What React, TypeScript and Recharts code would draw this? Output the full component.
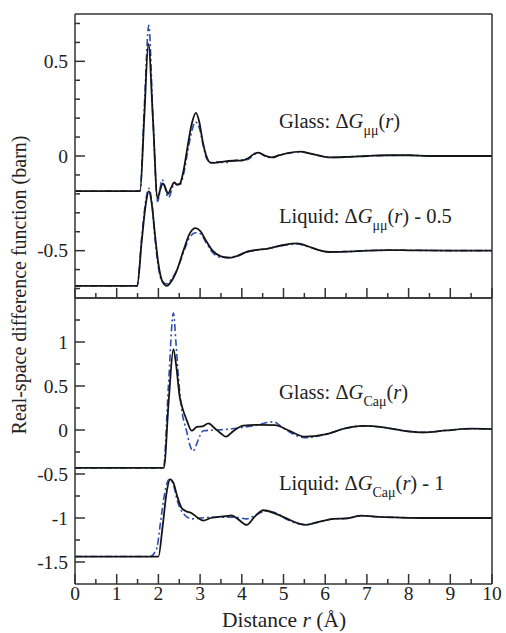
import React from "react";
import { LineChart, Line, XAxis, YAxis } from "recharts";

type Pt = [number, number];

// x ticks (major every 1 Å, minor every 0.5 Å)
const xTicks = [0, 0.5, 1, 1.5, 2, 2.5, 3, 3.5, 4, 4.5, 5, 5.5, 6, 6.5, 7, 7.5, 8, 8.5, 9, 9.5, 10];
const topTicks = [-0.7, -0.6, -0.5, -0.4, -0.3, -0.2, -0.1, 0, 0.1, 0.2, 0.3, 0.4, 0.5, 0.6, 0.7];
const botTicks = [-1.5, -1.25, -1, -0.75, -0.5, -0.25, 0, 0.25, 0.5, 0.75, 1, 1.25];

// top panel: ΔG_μμ(r)
const glassMuMu: Pt[] = [
  [0, -0.185], [1.56, -0.185], [1.66, 0.2], [1.76, 0.593], [1.87, 0.19], [1.98, -0.225],
  [2.04, -0.18], [2.11, -0.145], [2.17, -0.17], [2.23, -0.2], [2.3, -0.17], [2.38, -0.14],
  [2.45, -0.152], [2.52, -0.145], [2.6, -0.08], [2.7, 0.05], [2.8, 0.17], [2.9, 0.228],
  [2.98, 0.18], [3.06, 0.08], [3.15, 0.0], [3.26, -0.036], [3.4, -0.035], [3.6, -0.028],
  [3.8, -0.025], [4.0, -0.024], [4.15, -0.012], [4.3, 0.012], [4.4, 0.018], [4.55, 0.002],
  [4.72, -0.007], [4.9, 0.004], [5.1, 0.015], [5.4, 0.023], [5.7, 0.01], [6.1, -0.007],
  [6.5, -0.005], [7.0, 0.0], [7.5, 0.004], [8.0, 0.004], [8.5, 0.0], [9.0, 0.0], [10, 0.0],
];
const glassMuMuFit: Pt[] = [
  [0, -0.185], [1.56, -0.185], [1.66, 0.25], [1.77, 0.69], [1.87, 0.2], [1.98, -0.24],
  [2.09, -0.125], [2.24, -0.22], [2.38, -0.15], [2.52, -0.15], [2.6, -0.1], [2.7, 0.02],
  [2.8, 0.13], [2.88, 0.18], [2.98, 0.15], [3.06, 0.07], [3.15, -0.01], [3.26, -0.035],
  [3.4, -0.03], [3.6, -0.035], [3.8, -0.025], [4.0, -0.02], [4.15, -0.018], [4.3, 0.008],
  [4.42, 0.015], [4.55, 0.0], [4.72, -0.01], [4.9, 0.004], [5.1, 0.014], [5.4, 0.022],
  [5.7, 0.01], [6.1, -0.008], [6.5, -0.005], [7.0, 0.0], [7.5, 0.003], [8.0, 0.004],
  [8.5, 0.0], [9.0, 0.0], [10, 0.0],
];
const liquidMuMu: Pt[] = [
  [0, -0.686], [1.49, -0.686], [1.6, -0.45], [1.7, -0.25], [1.77, -0.185], [1.84, -0.25],
  [1.92, -0.42], [2.0, -0.57], [2.1, -0.665], [2.2, -0.686], [2.3, -0.665], [2.45, -0.6],
  [2.6, -0.5], [2.75, -0.41], [2.89, -0.381], [3.0, -0.395], [3.15, -0.45], [3.3, -0.5],
  [3.5, -0.53], [3.7, -0.538], [3.9, -0.528], [4.1, -0.508], [4.3, -0.498], [4.6, -0.49],
  [5.0, -0.47], [5.32, -0.462], [5.6, -0.478], [5.9, -0.5], [6.1, -0.507], [6.5, -0.505],
  [7.0, -0.5], [7.5, -0.497], [8.0, -0.498], [9.0, -0.5], [10, -0.5],
];
const liquidMuMuFit: Pt[] = [
  [0, -0.686], [1.49, -0.686], [1.6, -0.43], [1.7, -0.23], [1.77, -0.17], [1.84, -0.24],
  [1.92, -0.44], [2.0, -0.59], [2.1, -0.665], [2.2, -0.675], [2.3, -0.655], [2.45, -0.6],
  [2.6, -0.51], [2.75, -0.43], [2.89, -0.405], [3.0, -0.41], [3.15, -0.46], [3.3, -0.51],
  [3.5, -0.535], [3.7, -0.535], [3.9, -0.525], [4.1, -0.508], [4.3, -0.498], [4.6, -0.49],
  [5.0, -0.472], [5.32, -0.465], [5.6, -0.48], [5.9, -0.5], [6.1, -0.507], [6.5, -0.505],
  [7.0, -0.5], [7.5, -0.498], [8.0, -0.498], [9.0, -0.5], [10, -0.5],
];

// bottom panel: ΔG_Caμ(r)
const glassCaMu: Pt[] = [
  [0, -0.43], [2.13, -0.43], [2.25, 0.35], [2.36, 0.92], [2.43, 0.72], [2.51, 0.38],
  [2.57, 0.26], [2.68, 0.11], [2.8, -0.008], [2.92, 0.035], [3.05, 0.04], [3.2, 0.075],
  [3.35, 0.02], [3.5, -0.04], [3.62, -0.076], [3.8, -0.01], [4.04, 0.05], [4.4, 0.058],
  [4.8, 0.055], [5.1, 0.0], [5.52, -0.076], [6.0, -0.05], [6.5, 0.02], [6.91, 0.046],
  [7.4, 0.03], [7.9, -0.01], [8.35, -0.027], [8.9, -0.005], [9.5, 0.015], [10, 0.01],
];
const glassCaMuFit: Pt[] = [
  [0, -0.43], [2.12, -0.43], [2.24, 0.5], [2.36, 1.33], [2.42, 1.0], [2.48, 0.6],
  [2.56, 0.23], [2.68, -0.02], [2.76, -0.18], [2.83, -0.24], [2.9, -0.18], [3.0, -0.06],
  [3.08, -0.008], [3.4, 0.0], [3.88, 0.019], [4.3, 0.05], [4.76, 0.093], [5.0, 0.02],
  [5.25, -0.05], [5.5, -0.088], [6.0, -0.05], [6.5, 0.02], [6.91, 0.046], [7.4, 0.03],
  [7.9, -0.01], [8.35, -0.027], [8.9, -0.005], [9.5, 0.015], [10, 0.01],
];
const liquidCaMu: Pt[] = [
  [0, -1.438], [2.0, -1.438], [2.1, -1.1], [2.2, -0.7], [2.28, -0.56], [2.36, -0.6],
  [2.45, -0.75], [2.55, -0.88], [2.65, -0.92], [2.8, -0.945], [2.95, -1.0], [3.08, -1.03],
  [3.25, -1.0], [3.4, -0.99], [3.6, -0.98], [3.75, -0.97], [3.9, -1.01], [4.12, -1.078],
  [4.3, -0.99], [4.52, -0.912], [4.8, -0.95], [5.1, -1.01], [5.35, -1.06], [5.55, -1.078],
  [5.8, -1.05], [6.2, -1.01], [6.5, -1.005], [6.87, -0.973], [7.2, -0.985], [7.8, -0.995],
  [8.5, -1.0], [10, -1.0],
];
const liquidCaMuFit: Pt[] = [
  [0, -1.438], [1.8, -1.438], [1.9, -1.4], [1.97, -1.33], [2.05, -1.05], [2.15, -0.72],
  [2.26, -0.56], [2.36, -0.62], [2.45, -0.8], [2.6, -0.95], [2.8, -1.01], [3.0, -1.0],
  [3.4, -0.99], [3.8, -0.99], [4.12, -1.01], [4.35, -0.96], [4.6, -0.92], [4.85, -0.95],
  [5.1, -1.02], [5.35, -1.065], [5.55, -1.075], [5.8, -1.05], [6.2, -1.01], [6.5, -1.005],
  [6.87, -0.975], [7.2, -0.985], [7.8, -0.995], [8.5, -1.0], [10, -1.0],
];

const FRAME = "#333";
const BLACK = "#151515";
const BLUE = "#2d4fae";
const FONT =
  '"Liberation Serif", Tinos, "Times New Roman", Times, "Nimbus Roman", FreeSerif, "Noto Serif", "DejaVu Serif", serif';

const rows = (pts: Pt[]) => pts.map(([r, v]) => ({ r, v }));

// eslint-disable-next-line @typescript-eslint/no-explicit-any
function Tick(props: any) {
  const { x, y, payload, side, step, label } = props;
  const v: number = payload.value;
  const major = Math.abs(v / step - Math.round(v / step)) < 1e-6;
  const len = major ? 10 : 5;
  let x2 = x;
  let y2 = y;
  if (side === "bottom") y2 = y - len;
  if (side === "top") y2 = y + len;
  if (side === "left") x2 = x + len;
  if (side === "right") x2 = x - len;
  const txt = { fontFamily: FONT, fontSize: 19.5, fill: "#222" };
  return (
    <g>
      <line x1={x} y1={y} x2={x2} y2={y2} stroke={FRAME} strokeWidth={1.5} />
      {label && major && side === "bottom" && (
        <text x={x} y={y + 16} textAnchor="middle" style={txt}>
          {String(v)}
        </text>
      )}
      {label && major && side === "left" && (
        <text x={x - 7} y={y} dy="0.34em" textAnchor="end" style={txt}>
          {String(v)}
        </text>
      )}
    </g>
  );
}

interface PanelProps {
  height: number;
  topH: number;
  bottomH: number;
  domain: [number, number];
  yTicks: number[];
  xLabels: boolean;
  series: { pts: Pt[]; fit: boolean }[];
}

function Panel({ height, topH, bottomH, domain, yTicks, xLabels, series }: PanelProps) {
  const axisLine = { stroke: FRAME, strokeWidth: 1.5 };
  return (
    <LineChart width={506} height={height} margin={{ top: 0, right: 0, bottom: 0, left: 0 }}>
      <XAxis xAxisId="b" type="number" dataKey="r" domain={[0, 10]} ticks={xTicks} interval={0}
        orientation="bottom" height={bottomH} tickSize={0} tickMargin={0} tickLine={false} axisLine={axisLine}
        tick={(p: any) => <Tick {...p} side="bottom" step={1} label={xLabels} />} />
      <XAxis xAxisId="t" type="number" dataKey="r" domain={[0, 10]} ticks={xTicks} interval={0}
        orientation="top" height={topH} tickSize={0} tickMargin={0} tickLine={false} axisLine={axisLine}
        tick={(p: any) => <Tick {...p} side="top" step={1} label={false} />} />
      <YAxis yAxisId="l" type="number" domain={domain} ticks={yTicks} interval={0}
        orientation="left" width={75} tickSize={0} tickMargin={0} tickLine={false} axisLine={axisLine}
        tick={(p: any) => <Tick {...p} side="left" step={0.5} label />} />
      <YAxis yAxisId="r" type="number" domain={domain} ticks={yTicks} interval={0}
        orientation="right" width={14} tickSize={0} tickMargin={0} tickLine={false} axisLine={axisLine}
        tick={(p: any) => <Tick {...p} side="right" step={0.5} label={false} />} />
      {series.filter((s) => s.fit).map((s, i) => (
        <Line key={"f" + i} data={rows(s.pts)} dataKey="v" xAxisId="b" yAxisId="l" type="monotone"
          stroke={BLUE} strokeWidth={1.6} strokeDasharray="7 3 2 3" dot={false} activeDot={false}
          isAnimationActive={false} />
      ))}
      {series.filter((s) => !s.fit).map((s, i) => (
        <Line key={"s" + i} data={rows(s.pts)} dataKey="v" xAxisId="b" yAxisId="l" type="monotone"
          stroke={BLACK} strokeWidth={1.8} dot={false} activeDot={false} isAnimationActive={false} />
      ))}
    </LineChart>
  );
}

function Annot({ x, y, prefix, sub, suffix }: { x: number; y: number; prefix: string; sub: string; suffix: string }) {
  return (
    <text x={x} y={y} style={{ fontFamily: FONT, fontSize: 20.5 }}>
      {prefix}Δ<tspan fontStyle="italic">G</tspan>
      <tspan style={{ fontSize: 14 }} dy={7}>{sub}</tspan>
      <tspan dy={-7}>(</tspan>
      <tspan fontStyle="italic">r</tspan>
      <tspan>){suffix}</tspan>
    </text>
  );
}

export default function App() {
  return (
    <div style={{ position: "absolute", left: 0, top: 0, width: 506, height: 633, background: "#fff", fontFamily: FONT }}>
      <div style={{ position: "absolute", left: 0, top: 0 }}>
        <Panel height={300} topH={14} bottomH={2} domain={[-0.75, 0.75]} yTicks={topTicks} xLabels={false}
          series={[
            { pts: glassMuMuFit, fit: true },
            { pts: liquidMuMuFit, fit: true },
            { pts: glassMuMu, fit: false },
            { pts: liquidMuMu, fit: false },
          ]} />
      </div>
      <div style={{ position: "absolute", left: 0, top: 290 }}>
        <Panel height={343} topH={8} bottomH={49} domain={[-1.75, 1.5]} yTicks={botTicks} xLabels
          series={[
            { pts: glassCaMuFit, fit: true },
            { pts: liquidCaMuFit, fit: true },
            { pts: glassCaMu, fit: false },
            { pts: liquidCaMu, fit: false },
          ]} />
      </div>
      <svg width={506} height={633} style={{ position: "absolute", left: 0, top: 0, pointerEvents: "none" }}
        fill="#222">
        <text x={26} y={285} transform="rotate(-90 26 285)" textAnchor="middle" style={{ fontFamily: FONT, fontSize: 20 }}>
          Real-space difference function (barn)
        </text>
        <text x={284} y={627} textAnchor="middle" style={{ fontFamily: FONT, fontSize: 21.5 }}>
          Distance <tspan fontStyle="italic">r</tspan> (Å)
        </text>
        <Annot x={279} y={128} prefix="Glass: " sub="μμ" suffix="" />
        <Annot x={279} y={223} prefix="Liquid: " sub="μμ" suffix=" - 0.5" />
        <Annot x={279} y={399} prefix="Glass: " sub="Caμ" suffix="" />
        <Annot x={279} y={490} prefix="Liquid: " sub="Caμ" suffix=" - 1" />
      </svg>
    </div>
  );
}
